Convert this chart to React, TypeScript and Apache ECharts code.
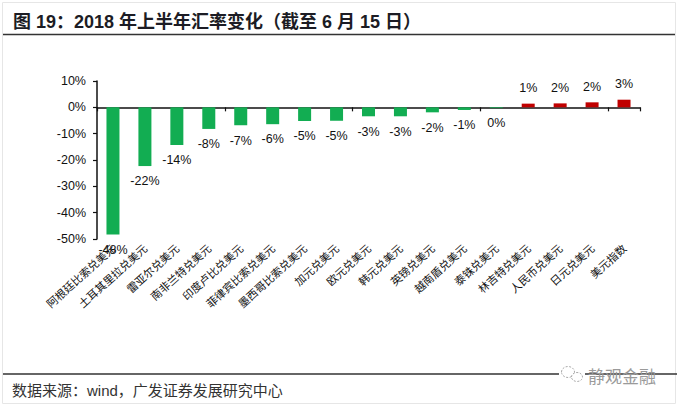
import { useEffect, useRef } from 'react'
import * as echarts from 'echarts'

// ─── 数据 ───
const categories = [
  '阿根廷比索兑美元', '土耳其里拉兑美元', '雷亚尔兑美元', '南非兰特兑美元',
  '印度卢比兑美元', '菲律宾比索兑美元', '墨西哥比索兑美元', '加元兑美元',
  '欧元兑美元', '韩元兑美元', '英镑兑美元', '越南盾兑美元', '泰铢兑美元',
  '林吉特兑美元', '人民币兑美元', '日元兑美元', '美元指数',
]
const changes = [-48.3, -22.3, -14.3, -8.2, -6.8, -6.4, -5.2, -5.1, -3.4, -3.4, -1.9, -1.0, -0.3, 1.4, 1.5, 1.9, 2.9]
const yMin = -50
const yMax = 10
const yStep = 10

const TITLE = '图 19：2018 年上半年汇率变化（截至 6 月 15 日）'
const SOURCE = '数据来源：wind，广发证券发展研究中心'
const WATERMARK = '静观金融'

// ─── 配色 ───
const GREEN = '#12ad52'
const RED = '#c00000'
const FONT = '"Liberation Sans", Arial, "Noto Sans CJK SC", sans-serif'
const CJK = '"Noto Sans CJK SC", sans-serif'

export default function App() {
  const ref = useRef<HTMLDivElement>(null)

  useEffect(() => {
    if (!ref.current) return
    document.body.style.margin = '0'
    const chart = echarts.init(ref.current, undefined, { renderer: 'svg' })

    const data = changes.map(v => ({
      value: v,
      itemStyle: { color: v >= 0 ? RED : GREEN },
      label: { position: v >= 0 ? ('top' as const) : ('bottom' as const) },
    }))

    chart.setOption({
      animation: false,
      backgroundColor: '#fff',
      grid: { left: 97, right: 38, top: 81, bottom: 168, containLabel: false },
      xAxis: [
        {
          // 底部：只放类目标签
          type: 'category',
          data: categories,
          position: 'bottom',
          axisLine: { show: false, onZero: false },
          axisTick: { show: false },
          axisLabel: {
            interval: 0, rotate: 42, margin: 7,
            fontSize: 11, color: '#111', fontFamily: CJK,
          },
        },
        {
          // 零线 + 刻度
          type: 'category',
          data: categories,
          position: 'top',
          axisLine: { show: true, onZero: true, lineStyle: { color: '#111', width: 1.5 } },
          axisTick: { show: true, inside: true, length: 4, lineStyle: { color: '#111', width: 1.2 } },
          axisLabel: { show: false },
        },
      ],
      yAxis: {
        type: 'value',
        min: yMin, max: yMax, interval: yStep,
        axisLine: { show: true, lineStyle: { color: '#111', width: 1.5 } },
        axisTick: { show: true, length: 4, lineStyle: { color: '#111', width: 1.2 } },
        splitLine: { show: false },
        axisLabel: {
          formatter: '{value}%', fontSize: 12.5, color: '#111', margin: 11, fontFamily: FONT,
        },
      },
      series: [{
        type: 'bar',
        xAxisIndex: 0,
        barWidth: 13,
        data,
        label: {
          show: true,
          distance: 9,
          fontSize: 12.5,
          color: '#111',
          fontFamily: FONT,
          formatter: (p: any) => `${String(Math.round(p.value))}%`,
        },
      }],
      graphic: [
        {
          type: 'rect', shape: { x: 2.5, y: 2.5, width: 673, height: 401 },
          style: { fill: 'none', stroke: '#e6e6e6', lineWidth: 1 }, silent: true,
        },
        {
          type: 'text', x: 13, y: 22,
          style: {
            text: TITLE, fill: '#1c1c24', font: `bold 18px ${FONT}`,
            textVerticalAlign: 'middle',
          },
        },
        {
          type: 'line', shape: { x1: 3, y1: 34.5, x2: 675, y2: 34.5 },
          style: { stroke: '#333', lineWidth: 1.5 },
        },
        {
          type: 'line', shape: { x1: 3, y1: 374, x2: 677, y2: 374 },
          style: { stroke: '#333', lineWidth: 1.5 },
        },
        // 水印图标
        {
          type: 'rect', shape: { x: 559, y: 365, width: 26, height: 18 },
          style: { fill: '#fff' },
        },
        {
          type: 'ellipse', shape: { cx: 568, cy: 372, rx: 6.5, ry: 5.5 },
          style: { fill: '#fff', stroke: '#aaa', lineWidth: 1, lineDash: [2, 1.5] },
        },
        {
          type: 'ellipse', shape: { cx: 577, cy: 377, rx: 5.5, ry: 4.5 },
          style: { fill: '#fff', stroke: '#aaa', lineWidth: 1, lineDash: [2, 1.5] },
        },
        {
          type: 'text', x: 588, y: 375,
          style: {
            text: WATERMARK, fill: '#9a9a9a', font: `17px ${CJK}`,
            textVerticalAlign: 'middle',
          },
        },
        {
          type: 'text', x: 12, y: 390,
          style: {
            text: SOURCE, fill: '#333', font: `15px ${FONT}`,
            textVerticalAlign: 'middle',
          },
        },
      ],
    })

    return () => chart.dispose()
  }, [])

  return <div ref={ref} style={{ width: 678, height: 407 }} />
}
